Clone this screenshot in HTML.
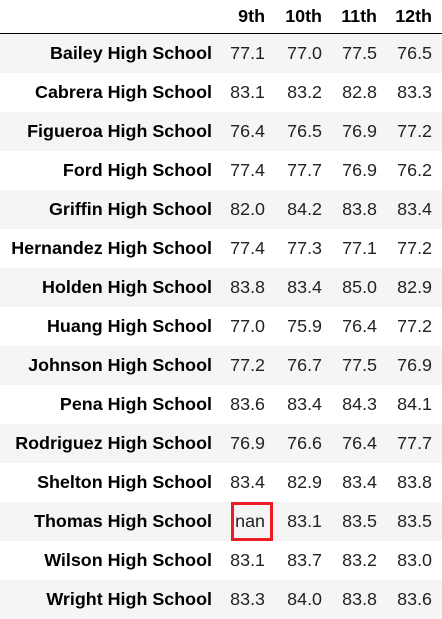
<!DOCTYPE html>
<html><head><meta charset="utf-8"><style>
html,body{margin:0;padding:0;background:#fff;}
#t{position:relative;width:442px;height:619px;overflow:hidden;font-family:"Liberation Sans",Arial,sans-serif;font-size:17.9px;color:#000;}
.row{position:absolute;left:0;width:442px;height:39px;}
.odd{background:#f5f5f5;}
.c{position:absolute;top:0;height:39px;line-height:39px;text-align:right;white-space:nowrap;}
.num{color:#222;}
.idx{font-weight:bold;right:230px;}
.hdr{font-weight:bold;}
#line{position:absolute;left:0;top:33px;width:442px;height:1px;background:#000;}
#box{position:absolute;border:3px solid #ee1c25;box-sizing:border-box;}
</style></head><body>
<div id="t">
<div id="line"></div>
</div>
<script>
const cols=["9th","10th","11th","12th"];
const schools=["Bailey High School","Cabrera High School","Figueroa High School","Ford High School","Griffin High School","Hernandez High School","Holden High School","Huang High School","Johnson High School","Pena High School","Rodriguez High School","Shelton High School","Thomas High School","Wilson High School","Wright High School"];
const g9=["77.1","83.1","76.4","77.4","82.0","77.4","83.8","77.0","77.2","83.6","76.9","83.4","nan","83.1","83.3"];
const g10=["77.0","83.2","76.5","77.7","84.2","77.3","83.4","75.9","76.7","83.4","76.6","82.9","83.1","83.7","84.0"];
const g11=["77.5","82.8","76.9","76.9","83.8","77.1","85.0","76.4","77.5","84.3","76.4","83.4","83.5","83.2","83.8"];
const g12=["76.5","83.3","77.2","76.2","83.4","77.2","82.9","77.2","76.9","84.1","77.7","83.8","83.5","83.0","83.6"];
const series=[g9,g10,g11,g12];
const rights=[177,120,65,10];
const t=document.getElementById('t');
const hr=document.createElement('div');
hr.className='row';hr.style.top='-3px';


t.appendChild(hr);
cols.forEach((c,j)=>{
  const d=document.createElement('div');
  d.className='c hdr';d.style.right=rights[j]+'px';d.textContent=c;
  
  
  hr.appendChild(d);
});
schools.forEach((s,i)=>{
  const r=document.createElement('div');
  r.className='row'+(i%2===0?' odd':'');
  r.style.top=(34+39*i)+'px';
  
  
  const ix=document.createElement('div');
  ix.className='c idx';ix.textContent=s;
  
  
  r.appendChild(ix);
  series.forEach((arr,j)=>{
    const d=document.createElement('div');
    d.className='c num';d.style.right=rights[j]+'px';d.textContent=arr[i];
    
    
    r.appendChild(d);
    if(arr[i]==='nan'){
      const b=document.createElement('div');
      b.id='box';
      b.style.left='231px';b.style.top=(34+39*i)+'px';b.style.width='42px';b.style.height='39px';
      
      
      setTimeout(()=>t.appendChild(b),0);
    }
  });
  t.appendChild(r);
});
</script>
</body></html>
